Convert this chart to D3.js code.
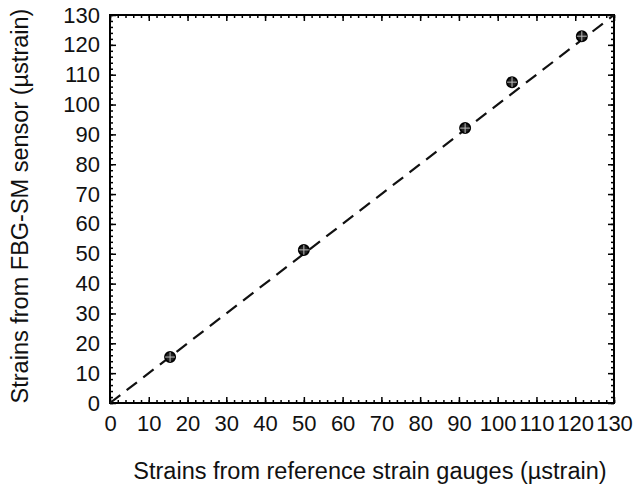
<!DOCTYPE html>
<html>
<head>
<meta charset="utf-8">
<script src="https://cdn.jsdelivr.net/npm/d3@7"></script>
<style>
  body { margin: 0; background: #fff; }
  svg { display: block; font-family: "Liberation Sans", Arial, sans-serif; }
</style>
</head>
<body>
<svg class="chart"></svg>
<script>
// Total dimensions
var w = 633,
    h = 486;

// Data
var refStrain = [15.5, 50.0, 91.6, 103.7, 121.7];
var fbgStrain = [15.4, 51.3, 92.1, 107.5, 122.9];
var fitLine = [[0, 0], [130, 130]];
var tickValues = [0, 10, 20, 30, 40, 50, 60, 70, 80, 90, 100, 110, 120, 130];

var svg = d3.select(".chart")
    .attr("width", w)
    .attr("height", h);

// Margins
var margin = { top: 15, right: 19, bottom: 83, left: 110 },
    width = w - margin.left - margin.right,
    height = h - margin.top - margin.bottom,
    g = svg.append("g").attr("transform", "translate(" + margin.left + "," + margin.top + ")");

var xScale = d3.scaleLinear().domain([0, 130]).range([0, width]);
var yScale = d3.scaleLinear().domain([0, 130]).range([height, 0]);

var minor = d3.range(0, 131, 2);

// Frame
g.append("rect")
    .attr("width", width)
    .attr("height", height)
    .attr("fill", "none")
    .attr("stroke", "#000")
    .attr("stroke-width", 2);

// Inward ticks on all four sides
var sides = [
    { a: d3.axisBottom(xScale), t: "translate(0," + height + ")" },
    { a: d3.axisTop(xScale), t: "translate(0,0)" },
    { a: d3.axisLeft(yScale), t: "translate(0,0)" },
    { a: d3.axisRight(yScale), t: "translate(" + width + ",0)" }
];
sides.forEach(function(sd) {
    g.append("g")
	.attr("transform", sd.t)
	.call(sd.a.tickValues(minor).tickSize(-3).tickFormat(""))
	.call(function(s) { s.select(".domain").remove(); s.selectAll("line").attr("stroke", "#000").attr("stroke-width", 1.5); });
    g.append("g")
	.attr("transform", sd.t)
	.call(sd.a.tickValues(tickValues).tickSize(-6).tickFormat(""))
	.call(function(s) { s.select(".domain").remove(); s.selectAll("line").attr("stroke", "#000").attr("stroke-width", 1.5); });
});

// Tick labels
g.append("g")
    .attr("transform", "translate(0," + height + ")")
    .call(d3.axisBottom(xScale).tickValues(tickValues).tickSize(0).tickPadding(12.5))
    .call(function(s) {
	s.select(".domain").remove();
	s.selectAll("text").attr("font-size", "22px").attr("fill", "#111")
	    .attr("font-family", "Liberation Sans, Arial, sans-serif");
    });

g.append("g")
    .call(d3.axisLeft(yScale).tickValues(tickValues).tickSize(0).tickPadding(10))
    .call(function(s) {
	s.select(".domain").remove();
	s.selectAll("text").attr("font-size", "22px").attr("fill", "#111")
	    .attr("font-family", "Liberation Sans, Arial, sans-serif");
    });

// Dashed 1:1 line
var line = d3.line()
    .x(function(d) { return xScale(d[0]); })
    .y(function(d) { return yScale(d[1]); });

g.append("path")
    .datum(fitLine)
    .attr("fill", "none")
    .attr("stroke", "#111")
    .attr("stroke-width", 2.2)
    .attr("stroke-dasharray", "13,8")
    .attr("d", line);

// Markers
var pts = refStrain.map(function(x, i) { return [x, fbgStrain[i]]; });
var mk = g.selectAll(".pt")
    .data(pts)
    .enter().append("g")
    .attr("class", "pt")
    .attr("transform", function(d) { return "translate(" + xScale(d[0]) + "," + yScale(d[1]) + ")"; });

mk.append("circle")
    .attr("r", 5)
    .attr("fill", "#222")
    .attr("stroke", "#000")
    .attr("stroke-width", 2);
mk.append("path")
    .attr("d", "M-5,0H5M0,-5V5")
    .attr("stroke", "#bbb")
    .attr("stroke-width", 1);

// Axis titles
svg.append("text")
    .attr("x", 370)
    .attr("y", 479)
    .attr("text-anchor", "middle")
    .attr("font-size", "23.5px")
    .attr("fill", "#111")
    .text("Strains from reference strain gauges (µstrain)");

svg.append("text")
    .attr("transform", "translate(28," + 206 + ") rotate(-90)")
    .attr("text-anchor", "middle")
    .attr("font-size", "23.5px")
    .attr("fill", "#111")
    .text("Strains from FBG-SM sensor (µstrain)");
</script>
</body>
</html>
